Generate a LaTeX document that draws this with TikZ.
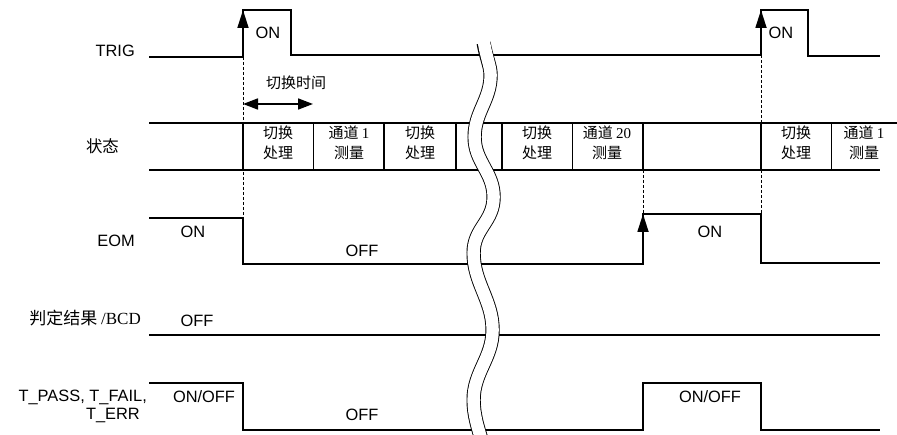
\documentclass[tikz,border=0pt]{standalone}
\usepackage{fontspec}
\setmainfont{Liberation Sans}
\newfontfamily\cjk{Noto Sans CJK SC}
\newfontfamily\serif{Liberation Serif}
\usetikzlibrary{arrows.meta}
\begin{document}
\begin{tikzpicture}[x=1pt,y=-1pt,
  sig/.style={line width=1.7pt,line join=miter},
  thin/.style={line width=0.9pt},
  guide/.style={line width=0.7pt,dash pattern=on 3pt off 2pt},
  lab/.style={font=\fontsize{16.4}{19}\selectfont,inner sep=0pt},
  cjklab/.style={font=\cjk\fontsize{16.4}{19}\selectfont,inner sep=0pt},
  boxtxt/.style={font=\cjk\fontsize{15}{20}\selectfont,align=center,inner sep=0pt},
  uparrow/.style={line width=1.7pt,-{Triangle[length=18pt,width=11pt]}},
  dblarrow/.style={line width=1.7pt,{Triangle[length=15pt,width=11pt]}-{Triangle[length=15pt,width=11pt]}},
  wave/.style={line cap=butt}
]
\useasboundingbox (0,0) rectangle (897,435);
\begin{scope}
\clip (0,0) rectangle (897,435);
% guides
\draw[guide] (243,57) -- (243,218);
\draw[guide] (643,170) -- (643,214);
\draw[guide] (761,55) -- (761,214);
% TRIG
\draw[sig] (149,57) -- (243,57) -- (243,10) -- (291,10) -- (291,55) -- (761,55) -- (761,10) -- (808,10) -- (808,56) -- (880,56);
\coordinate (t1a) at (243,40); \coordinate (t1b) at (243,10);
\coordinate (t2a) at (761,40); \coordinate (t2b) at (761,10);
\draw[uparrow] (t1a) -- (t1b);
\draw[uparrow] (t2a) -- (t2b);
% switching time arrow
\coordinate (swa) at (243,104); \coordinate (swb) at (313,104);
\draw[dblarrow] (swa) -- (swb);
\node[cjklab,font=\cjk\fontsize{15}{18}\selectfont] (swt) at (296,83) {切换时间};
% state bus
\draw[sig] (149,123) -- (897,123);
\draw[sig] (149,170) -- (880,170);
\foreach \x in {243,384,456,502,643,761} \draw[sig] (\x,123) -- (\x,170);
\foreach \x in {313,572,831} \draw[thin] (\x,123) -- (\x,170);
\node[boxtxt] (b1) at (278,143) {切换\\处理};
\node[boxtxt] (b2) at (349,143) {通道 {\serif 1}\\测量};
\node[boxtxt] (b3) at (420,143) {切换\\处理};
\node[boxtxt] (b4) at (537,143) {切换\\处理};
\node[boxtxt] (b5) at (607,143) {通道 {\serif 20}\\测量};
\node[boxtxt] (b6) at (796,143) {切换\\处理};
\node[boxtxt] (b7) at (864,143) {通道 {\serif 1}\\测量};
% EOM
\draw[sig] (149,218) -- (243,218) -- (243,264) -- (643,264) -- (643,214) -- (761,214) -- (761,263) -- (880,263);
\coordinate (e1a) at (643,250); \coordinate (e1b) at (643,214);
\draw[uparrow] (e1a) -- (e1b);
% BCD
\draw[sig] (149,335) -- (880,335);
% T_PASS
\draw[sig] (149,383) -- (243,383) -- (243,430) -- (643,430) -- (643,383) -- (761,383) -- (761,430) -- (880,430);
% break
\draw[wave,line width=14.2pt] (483.6,43) .. controls (486,57) and (490.6,66) .. (490.6,75)
  .. controls (490.6,100) and (474.6,112) .. (474.6,137)
  .. controls (474.6,162) and (493.6,172) .. (493.6,197)
  .. controls (493.6,222) and (473.6,228) .. (473.6,253)
  .. controls (473.6,283) and (492.6,300) .. (492.6,330)
  .. controls (492.6,358) and (473.6,372) .. (473.6,400)
  .. controls (473.6,415) and (478,428) .. (481.6,440);
\draw[wave,line width=12.4pt,white] (483.6,40) .. controls (486,57) and (490.6,66) .. (490.6,75)
  .. controls (490.6,100) and (474.6,112) .. (474.6,137)
  .. controls (474.6,162) and (493.6,172) .. (493.6,197)
  .. controls (493.6,222) and (473.6,228) .. (473.6,253)
  .. controls (473.6,283) and (492.6,300) .. (492.6,330)
  .. controls (492.6,358) and (473.6,372) .. (473.6,400)
  .. controls (473.6,415) and (478,428) .. (481.6,440);
\end{scope}
% left labels
\node[lab,anchor=east] (lTRIG) at (135,51) {TRIG};
\node[cjklab,anchor=east] (lstate) at (119,146) {状态};
\node[lab,anchor=east] (lEOM) at (135,241) {EOM};
\node[cjklab,anchor=east,font=\cjk\fontsize{17}{19}\selectfont] (lBCD) at (141,318) {判定结果 {\serif /BCD}};
\node[lab,anchor=east] (lT1) at (147,397) {T\_PASS, T\_FAIL,};
\node[lab,anchor=east] (lT2) at (140,415) {T\_ERR};
% value labels
\node[lab] (on1) at (268,33) {ON};
\node[lab] (on2) at (781,33) {ON};
\node[lab] (eon1) at (193,232) {ON};
\node[lab] (eoff) at (362,251) {OFF};
\node[lab] (eon2) at (710,232) {ON};
\node[lab] (boff) at (197,321) {OFF};
\node[lab] (ton1) at (204,397) {ON/OFF};
\node[lab] (toff) at (362,415) {OFF};
\node[lab] (ton2) at (710,397) {ON/OFF};
\end{tikzpicture}
\end{document}
